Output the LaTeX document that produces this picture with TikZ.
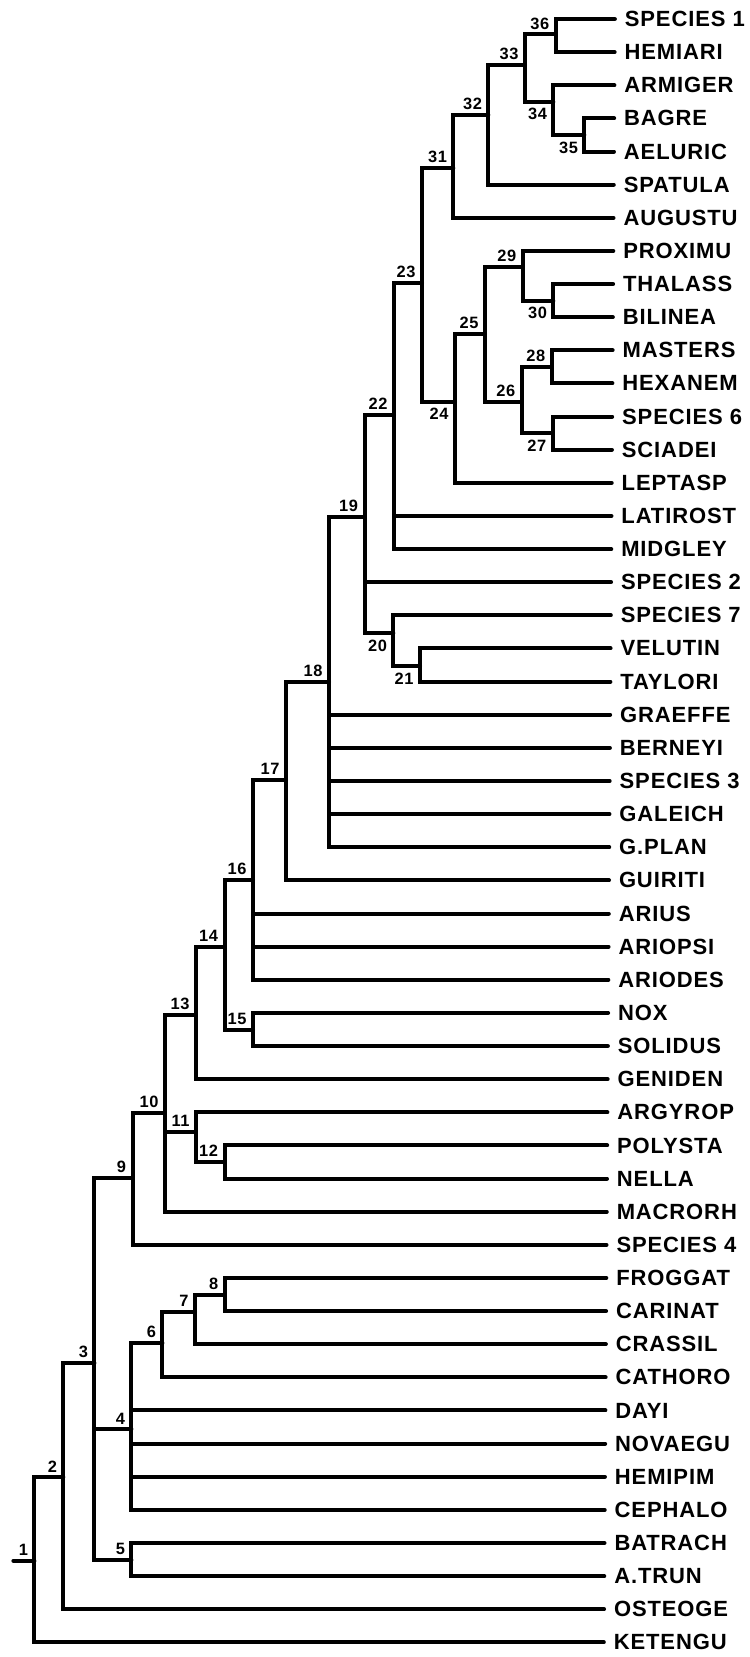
\documentclass[tikz,border=0pt]{standalone}
\usepackage{fontspec}
\setmainfont{Liberation Sans}
\newfontfamily\taxonfont[LetterSpace=4]{Liberation Sans}
\newfontfamily\numfont[LetterSpace=4]{Liberation Sans}

\tikzset{
  branch/.style={line width=2pt, line cap=round},
  taxon/.style={anchor=west, inner sep=0pt, font=\taxonfont\bfseries\fontsize{11}{12}\selectfont},
  nlab/.style={inner sep=0pt, font=\numfont\bfseries\fontsize{8.2}{9}\selectfont},
  above lab/.style={nlab, anchor=south east, xshift=-3pt, yshift=2.4pt},
  below lab/.style={nlab, anchor=north east, xshift=-3pt, yshift=-3.2pt}
}

\begin{document}
\begin{tikzpicture}[x={(0.5pt,0)}, y={(0,-0.5pt)}]
\path[fill=white, use as bounding box] (0,0) rectangle (749,1657);

% terminal taxa: line ends and names
\foreach \i/\name in {0/SPECIES 1, 1/HEMIARI, 2/ARMIGER, 3/BAGRE, 4/AELURIC,
  5/SPATULA, 6/AUGUSTU, 7/PROXIMU, 8/THALASS, 9/BILINEA, 10/MASTERS,
  11/HEXANEM, 12/SPECIES 6, 13/SCIADEI, 14/LEPTASP, 15/LATIROST, 16/MIDGLEY,
  17/SPECIES 2, 18/SPECIES 7, 19/VELUTIN, 20/TAYLORI, 21/GRAEFFE, 22/BERNEYI,
  23/SPECIES 3, 24/GALEICH, 25/G.PLAN, 26/GUIRITI, 27/ARIUS, 28/ARIOPSI,
  29/ARIODES, 30/NOX, 31/SOLIDUS, 32/GENIDEN, 33/ARGYROP, 34/POLYSTA,
  35/NELLA, 36/MACRORH, 37/SPECIES 4, 38/FROGGAT, 39/CARINAT, 40/CRASSIL,
  41/CATHORO, 42/DAYI, 43/NOVAEGU, 44/HEMIPIM, 45/CEPHALO, 46/BATRACH,
  47/A.TRUN, 48/OSTEOGE, 49/KETENGU}
{
  \pgfmathsetmacro\ty{19+33.13*\i}
  \pgfmathsetmacro\tx{615-0.0068*\ty}
  \coordinate (t\i) at (\tx,\ty);
  \node[taxon] (name\i) at ([xshift=4.8pt]t\i) {\name};
}

% internal nodes of the cladogram
\coordinate (root) at (13.4,1560.7);
\coordinate (n1) at (34.4,1560.7);
\coordinate (n2) at (63.3,1477.3);
\coordinate (n3) at (94.4,1363.3);
\coordinate (n4) at (131.4,1429.3);
\coordinate (n5) at (131.4,1560);
\coordinate (n6) at (162.4,1343.3);
\coordinate (n7) at (195,1311.7);
\coordinate (n8) at (224.6,1295);
\coordinate (n9) at (132.5,1178.3);
\coordinate (n10) at (164.8,1112.7);
\coordinate (n11) at (195.9,1131.7);
\coordinate (n12) at (224.5,1162);
\coordinate (n13) at (195.9,1015);
\coordinate (n14) at (224.5,946.7);
\coordinate (n15) at (253,1030);
\coordinate (n16) at (253,880);
\coordinate (n17) at (286,780);
\coordinate (n18) at (329,681.7);
\coordinate (n19) at (364.5,516.7);
\coordinate (n20) at (393.3,633.3);
\coordinate (n21) at (420,666);
\coordinate (n22) at (394,415);
\coordinate (n23) at (422,283.3);
\coordinate (n24) at (455,401.7);
\coordinate (n25) at (485,334);
\coordinate (n26) at (521.7,401.7);
\coordinate (n27) at (552.7,433.2);
\coordinate (n28) at (551.7,367);
\coordinate (n29) at (522.7,266.7);
\coordinate (n30) at (553.3,300.6);
\coordinate (n31) at (453.3,168.3);
\coordinate (n32) at (488.3,115);
\coordinate (n33) at (525,65);
\coordinate (n34) at (553.3,101.7);
\coordinate (n35) at (584.3,135);
\coordinate (n36) at (555.7,34.5);

% branches
\draw[branch] (root) -- (n1);
\foreach \p/\c in {n1/n2, n1/t49, n2/n3, n2/t48, n3/n9, n3/n4, n3/n5,
  n9/n10, n9/t37, n10/n13, n10/n11, n10/t36, n13/n14, n13/t32,
  n14/n16, n14/n15, n16/n17, n16/t27, n16/t28, n16/t29, n15/t30, n15/t31,
  n11/t33, n11/n12, n12/t34, n12/t35, n17/n18, n17/t26,
  n18/n19, n18/t21, n18/t22, n18/t23, n18/t24, n18/t25,
  n19/n22, n19/t17, n19/n20, n20/t18, n20/n21, n21/t19, n21/t20,
  n22/n23, n22/t15, n22/t16, n23/n31, n23/n24, n31/n32, n31/t6,
  n32/n33, n32/t5, n33/n36, n33/n34, n36/t0, n36/t1, n34/t2, n34/n35,
  n35/t3, n35/t4, n24/n25, n24/t14, n25/n29, n25/n26, n29/t7, n29/n30,
  n30/t8, n30/t9, n26/n28, n26/n27, n28/t10, n28/t11, n27/t12, n27/t13,
  n4/n6, n4/t42, n4/t43, n4/t44, n4/t45, n6/n7, n6/t41, n7/n8, n7/t40,
  n8/t38, n8/t39, n5/t46, n5/t47}
  \draw[branch] (\p) |- (\c);

% node numbers
\foreach \k in {1,2,3,4,5,6,7,8,9,10,11,12,13,14,15,16,17,18,19,22,23,25,26,28,29,31,32,33,36}
  \node[above lab] (num\k) at (n\k) {\k};
\foreach \k in {20,21,24,27,30,34,35}
  \node[below lab] (num\k) at (n\k) {\k};
\end{tikzpicture}
\end{document}
